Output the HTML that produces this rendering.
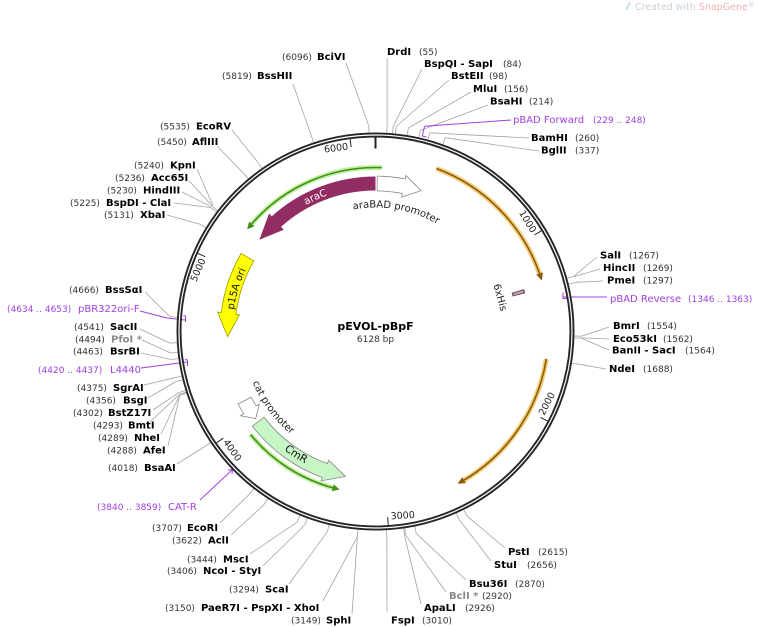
<!DOCTYPE html>
<html><head><meta charset="utf-8">
<style>
html,body{margin:0;padding:0;background:#fff;}
svg{display:block;}
text{font-family:"DejaVu Sans","Liberation Sans",sans-serif;}
.b{font-size:10px;font-weight:bold;fill:#000;}
.g{font-size:10px;font-weight:bold;fill:#8a8a8a;}
.n{font-size:9px;fill:#333;}
.p{font-size:10px;fill:#a040e0;}
.pn{font-size:9px;fill:#a040e0;}
.t{font-size:9.5px;fill:#222;}
</style></head>
<body>
<svg width="760" height="627" viewBox="0 0 760 627" xmlns="http://www.w3.org/2000/svg">
<defs>
<path id="cwA" d="M375.5,455.5 A124,124 0 1 1 375.5,207.5 A124,124 0 1 1 375.5,455.5"/>
<path id="cwC" d="M375.5,476 A144.5,144.5 0 1 1 375.5,187 A144.5,144.5 0 1 1 375.5,476"/>
<path id="cwP" d="M375.5,475 A143.5,143.5 0 1 1 375.5,188 A143.5,143.5 0 1 1 375.5,475"/>
<path id="ccwM" d="M375.5,182 A149.5,149.5 0 1 0 375.5,481 A149.5,149.5 0 1 0 375.5,182"/>
<path id="ccwK" d="M375.5,198.5 A133,133 0 1 0 375.5,464.5 A133,133 0 1 0 375.5,198.5"/>
</defs>

<!-- Created with SnapGene -->
<path d="M625,10 L629,2 L631,3 L627,10 Z" fill="#c5dff2"/>
<text x="635" y="10" style="font-size:9.5px;fill:#c9d2db">Created with <tspan style="fill:#f3b0b0">SnapGene</tspan><tspan style="font-size:7px;fill:#c9d2db" dy="-3">®</tspan></text>

<!-- leader connectors -->
<g stroke="#a3a3a3" stroke-width="0.8" fill="none">
<line x1="387.1" y1="58" x2="387.1" y2="125.8"/>
<line x1="422" y1="69" x2="393.2" y2="126.3"/>
<line x1="449" y1="80" x2="396.2" y2="126.5"/>
<line x1="471" y1="92" x2="408.3" y2="128.1"/>
<line x1="488" y1="105" x2="420.3" y2="130.4"/>
<line x1="529" y1="138" x2="429.8" y2="132.8"/>
<line x1="539" y1="151" x2="445.3" y2="137.7"/>
<line x1="597" y1="257" x2="573.9" y2="276.2"/>
<line x1="600" y1="269" x2="574.1" y2="276.6"/>
<line x1="603" y1="281" x2="575.5" y2="282.3"/>
<line x1="609" y1="327" x2="581.4" y2="336.2"/>
<line x1="609" y1="339" x2="581.4" y2="337.9"/>
<line x1="609" y1="350" x2="581.4" y2="338.3"/>
<line x1="606" y1="369" x2="578.9" y2="364.3"/>
<line x1="505" y1="548" x2="467.0" y2="516.1"/>
<line x1="491" y1="561" x2="459.2" y2="519.7"/>
<line x1="466" y1="580" x2="416.2" y2="533.4"/>
<line x1="446" y1="592" x2="405.8" y2="535.3"/>
<line x1="421" y1="604" x2="404.5" y2="535.4"/>
<line x1="387" y1="612" x2="386.9" y2="537.2"/>
<line x1="220" y1="523" x2="249.3" y2="494.3"/>
<line x1="231" y1="535" x2="264.0" y2="504.7"/>
<line x1="250" y1="554" x2="297.2" y2="522.1"/>
<line x1="263" y1="566" x2="304.7" y2="525.0"/>
<line x1="289" y1="584" x2="327.4" y2="531.8"/>
<line x1="323" y1="601" x2="357.4" y2="536.7"/>
<line x1="352" y1="614" x2="357.4" y2="536.7"/>
<line x1="177" y1="464" x2="204.7" y2="446.6"/>
<line x1="168" y1="446" x2="179.7" y2="395.5"/>
<line x1="161" y1="434" x2="179.6" y2="395.3"/>
<line x1="150" y1="422" x2="179.3" y2="394.4"/>
<line x1="153" y1="410" x2="178.8" y2="392.6"/>
<line x1="148" y1="398" x2="175.7" y2="381.6"/>
<line x1="144" y1="385" x2="174.8" y2="377.7"/>
<line x1="141" y1="353" x2="171.4" y2="359.5"/>
<line x1="142" y1="340" x2="170.6" y2="353.0"/>
<line x1="140" y1="329" x2="169.8" y2="343.1"/>
<line x1="145" y1="292" x2="170.0" y2="316.7"/>
<line x1="167" y1="215" x2="199.7" y2="224.1"/>
<line x1="174" y1="203" x2="210.9" y2="207.6"/>
<line x1="182" y1="192" x2="211.5" y2="206.8"/>
<line x1="189" y1="181" x2="212.3" y2="205.8"/>
<line x1="197" y1="169" x2="212.8" y2="205.1"/>
<line x1="217" y1="146" x2="243.6" y2="173.3"/>
<line x1="232" y1="130" x2="257.8" y2="162.4"/>
<line x1="293" y1="84" x2="311.3" y2="135.7"/>
<line x1="346" y1="63" x2="368.7" y2="125.6"/>
</g>
<!-- radial segments -->
<g stroke="#a3a3a3" stroke-width="0.8">
<line x1="375.5" y1="133" x2="375.5" y2="125.5" transform="rotate(3.231 375.5 331.5)"/>
<line x1="375.5" y1="133" x2="375.5" y2="125.5" transform="rotate(4.935 375.5 331.5)"/>
<line x1="375.5" y1="133" x2="375.5" y2="125.5" transform="rotate(5.757 375.5 331.5)"/>
<line x1="375.5" y1="133" x2="375.5" y2="125.5" transform="rotate(9.165 375.5 331.5)"/>
<line x1="375.5" y1="133" x2="375.5" y2="125.5" transform="rotate(12.572 375.5 331.5)"/>
<line x1="375.5" y1="133" x2="375.5" y2="125.5" transform="rotate(15.274 375.5 331.5)"/>
<line x1="375.5" y1="133" x2="375.5" y2="125.5" transform="rotate(19.798 375.5 331.5)"/>
<line x1="375.5" y1="133" x2="375.5" y2="125.5" transform="rotate(74.43 375.5 331.5)"/>
<line x1="375.5" y1="133" x2="375.5" y2="125.5" transform="rotate(76.19 375.5 331.5)"/>
<line x1="375.5" y1="133" x2="375.5" y2="125.5" transform="rotate(91.30 375.5 331.5)"/>
<line x1="375.5" y1="133" x2="375.5" y2="125.5" transform="rotate(91.85 375.5 331.5)"/>
<line x1="375.5" y1="133" x2="375.5" y2="125.5" transform="rotate(99.17 375.5 331.5)"/>
<line x1="375.5" y1="133" x2="375.5" y2="125.5" transform="rotate(153.62 375.5 331.5)"/>
<line x1="375.5" y1="133" x2="375.5" y2="125.5" transform="rotate(156.03 375.5 331.5)"/>
<line x1="375.5" y1="133" x2="375.5" y2="125.5" transform="rotate(168.60 375.5 331.5)"/>
<line x1="375.5" y1="133" x2="375.5" y2="125.5" transform="rotate(171.54 375.5 331.5)"/>
<line x1="375.5" y1="133" x2="375.5" y2="125.5" transform="rotate(171.89 375.5 331.5)"/>
<line x1="375.5" y1="133" x2="375.5" y2="125.5" transform="rotate(176.83 375.5 331.5)"/>
<line x1="375.5" y1="133" x2="375.5" y2="125.5" transform="rotate(185.05 375.5 331.5)"/>
<line x1="375.5" y1="133" x2="375.5" y2="125.5" transform="rotate(193.51 375.5 331.5)"/>
<line x1="375.5" y1="133" x2="375.5" y2="125.5" transform="rotate(200.09 375.5 331.5)"/>
<line x1="375.5" y1="133" x2="375.5" y2="125.5" transform="rotate(202.33 375.5 331.5)"/>
<line x1="375.5" y1="133" x2="375.5" y2="125.5" transform="rotate(212.79 375.5 331.5)"/>
<line x1="375.5" y1="133" x2="375.5" y2="125.5" transform="rotate(217.78 375.5 331.5)"/>
<line x1="375.5" y1="133" x2="375.5" y2="125.5" transform="rotate(236.04 375.5 331.5)"/>
<line x1="375.5" y1="133" x2="375.5" y2="125.5" transform="rotate(251.94 375.5 331.5)"/>
<line x1="375.5" y1="133" x2="375.5" y2="125.5" transform="rotate(252.21 375.5 331.5)"/>
<line x1="375.5" y1="133" x2="375.5" y2="125.5" transform="rotate(252.74 375.5 331.5)"/>
<line x1="375.5" y1="133" x2="375.5" y2="125.5" transform="rotate(255.91 375.5 331.5)"/>
<line x1="375.5" y1="133" x2="375.5" y2="125.5" transform="rotate(257.02 375.5 331.5)"/>
<line x1="375.5" y1="133" x2="375.5" y2="125.5" transform="rotate(262.18 375.5 331.5)"/>
<line x1="375.5" y1="133" x2="375.5" y2="125.5" transform="rotate(264.0 375.5 331.5)"/>
<line x1="375.5" y1="133" x2="375.5" y2="125.5" transform="rotate(266.77 375.5 331.5)"/>
<line x1="375.5" y1="133" x2="375.5" y2="125.5" transform="rotate(274.12 375.5 331.5)"/>
<line x1="375.5" y1="133" x2="375.5" y2="125.5" transform="rotate(301.43 375.5 331.5)"/>
<line x1="375.5" y1="133" x2="375.5" y2="125.5" transform="rotate(306.95 375.5 331.5)"/>
<line x1="375.5" y1="133" x2="375.5" y2="125.5" transform="rotate(307.5 375.5 331.5)"/>
<line x1="375.5" y1="133" x2="375.5" y2="125.5" transform="rotate(320.17 375.5 331.5)"/>
<line x1="375.5" y1="133" x2="375.5" y2="125.5" transform="rotate(325.16 375.5 331.5)"/>
<line x1="375.5" y1="133" x2="375.5" y2="125.5" transform="rotate(341.85 375.5 331.5)"/>
<line x1="375.5" y1="133" x2="375.5" y2="125.5" transform="rotate(358.12 375.5 331.5)"/>
</g>

<!-- primers (purple) -->
<g stroke="#a040e0" stroke-width="1" fill="none">
<line x1="511" y1="120" x2="424.7" y2="126.3"/>
<path d="M375.5,120.5 L375.5,130.5 L380,130.5" transform="rotate(13.45 375.5 331.5)"/>
<line x1="607" y1="297" x2="563" y2="297"/>
<path d="M563,292.5 L563,298.5 L567,298.5"/>
<polyline points="140,311 167,318 185,320"/>
<path d="M183.5,315.5 L185.5,316 L185.5,322"/>
<line x1="141" y1="368" x2="187" y2="362"/>
<path d="M185,359.5 L187.5,360 L187.5,366"/>
<line x1="200" y1="500" x2="232" y2="470"/>
<path d="M228,470 L232.5,469.5 L232,474"/>
</g>

<!-- backbone ring -->
<circle cx="375.5" cy="331.5" r="196.5" fill="none" stroke="#262626" stroke-width="5"/>
<circle cx="375.5" cy="331.5" r="196.5" fill="none" stroke="#fff" stroke-width="1.2"/>

<!-- ticks -->
<g stroke="#222" stroke-width="1">
<line x1="375.5" y1="137.5" x2="375.5" y2="145.5" transform="rotate(58.75 375.5 331.5)"/>
<line x1="375.5" y1="137.5" x2="375.5" y2="145.5" transform="rotate(117.5 375.5 331.5)"/>
<line x1="375.5" y1="137.5" x2="375.5" y2="145.5" transform="rotate(176.24 375.5 331.5)"/>
<line x1="375.5" y1="137.5" x2="375.5" y2="145.5" transform="rotate(234.99 375.5 331.5)"/>
<line x1="375.5" y1="137.5" x2="375.5" y2="145.5" transform="rotate(293.73 375.5 331.5)"/>
<line x1="375.5" y1="137.5" x2="375.5" y2="145.5" transform="rotate(352.48 375.5 331.5)"/>
<line x1="375.5" y1="137" x2="375.5" y2="148.5" stroke-width="2"/>
</g>
<g class="t">
<text class="t" x="372.5" y="147.5" text-anchor="end" transform="rotate(58.75 375.5 331.5)">1000</text>
<text class="t" x="372.5" y="147.5" text-anchor="end" transform="rotate(293.73 375.5 331.5)">5000</text>
<text class="t" x="372.5" y="147.5" text-anchor="end" transform="rotate(352.48 375.5 331.5)">6000</text>
<text class="t" x="378.5" y="520" transform="rotate(-62.5 375.5 331.5)">2000</text>
<text class="t" x="378.5" y="520" transform="rotate(-3.76 375.5 331.5)">3000</text>
<text class="t" x="378.5" y="520" transform="rotate(54.99 375.5 331.5)">4000</text>
</g>

<!-- ORF arcs -->
<g fill="none">
<circle cx="375.5" cy="331.5" r="164" pathLength="360" stroke="#c2f0a2" stroke-width="5" stroke-dasharray="51.2 400" transform="rotate(221 375.5 331.5)"/>
<circle cx="375.5" cy="331.5" r="164" pathLength="360" stroke="#3d8f14" stroke-width="1.6" stroke-dasharray="51.2 400" transform="rotate(221 375.5 331.5)"/>
<circle cx="375.5" cy="331.5" r="162" pathLength="360" stroke="#c2f0a2" stroke-width="5" stroke-dasharray="35.2 400" transform="rotate(105.3 375.5 331.5)"/>
<circle cx="375.5" cy="331.5" r="162" pathLength="360" stroke="#3d8f14" stroke-width="1.6" stroke-dasharray="35.2 400" transform="rotate(105.3 375.5 331.5)"/>
<circle cx="375.5" cy="331.5" r="174" pathLength="360" stroke="#f6cc78" stroke-width="5" stroke-dasharray="50 400" transform="rotate(-69.5 375.5 331.5)"/>
<circle cx="375.5" cy="331.5" r="174" pathLength="360" stroke="#8a5c08" stroke-width="1.6" stroke-dasharray="50 400" transform="rotate(-69.5 375.5 331.5)"/>
<circle cx="375.5" cy="331.5" r="173" pathLength="360" stroke="#f6cc78" stroke-width="5" stroke-dasharray="50.1 400" transform="rotate(9.1 375.5 331.5)"/>
<circle cx="375.5" cy="331.5" r="173" pathLength="360" stroke="#8a5c08" stroke-width="1.6" stroke-dasharray="50.1 400" transform="rotate(9.1 375.5 331.5)"/>
</g>
<polygon points="375.5,164 375.5,171 368.35,167.7" fill="#3d8f14" transform="rotate(311 375.5 331.5)"/>
<polygon points="375.5,166 375.5,173 368.43,169.65" fill="#3d8f14" transform="rotate(195.3 375.5 331.5)"/>
<polygon points="375.5,154 375.5,161 383.09,157.67" fill="#8a5c08" transform="rotate(70.5 375.5 331.5)"/>
<polygon points="375.5,155 375.5,162 383.05,158.7" fill="#8a5c08" transform="rotate(149.2 375.5 331.5)"/>

<!-- araC -->
<circle cx="375.5" cy="331.5" r="148" pathLength="360" fill="none" stroke="#922d63" stroke-width="14" stroke-dasharray="42.5 400" transform="rotate(227.5 375.5 331.5)"/>
<polygon points="375.5,172.5 375.5,194.5 350.6,185.6" fill="#922d63" transform="rotate(318 375.5 331.5)"/>
<text style="font-size:10px;fill:#fff"><textPath href="#cwC" startOffset="392.9" text-anchor="middle">araC</textPath></text>

<!-- araBAD promoter -->
<circle cx="375.5" cy="331.5" r="148" pathLength="360" fill="none" stroke="#888" stroke-width="15.6" stroke-dasharray="10.8 400" transform="rotate(-89.5 375.5 331.5)"/>
<circle cx="375.5" cy="331.5" r="148" pathLength="360" fill="none" stroke="#fff" stroke-width="14" stroke-dasharray="10.6 400" transform="rotate(-89.2 375.5 331.5)"/>
<path d="M375.5,176.5 L375.5,172.5 L393.54,184.6 L375.5,194.5 L375.5,190.5" fill="#fff" stroke="#888" stroke-width="0.8" transform="rotate(11 375.5 331.5)"/>
<text style="font-size:10px;fill:#222"><textPath href="#cwA" startOffset="410.6" text-anchor="middle">araBAD promoter</textPath></text>

<!-- p15A ori -->
<circle cx="375.5" cy="331.5" r="148" pathLength="360" fill="none" stroke="#9a9a00" stroke-width="15.6" stroke-dasharray="23.8 400" transform="rotate(186.5 375.5 331.5)"/>
<circle cx="375.5" cy="331.5" r="148" pathLength="360" fill="none" stroke="#ffff00" stroke-width="14" stroke-dasharray="23.5 400" transform="rotate(186.5 375.5 331.5)"/>
<path d="M375.5,176.5 L375.5,172.5 L352.35,185.3 L375.5,194.5 L375.5,190.5" fill="#ffff00" stroke="#9a9a00" stroke-width="0.8" transform="rotate(277 375.5 331.5)"/>
<text style="font-size:10px;fill:#111"><textPath href="#cwP" startOffset="268" text-anchor="middle">p15A ori</textPath></text>

<!-- CmR -->
<circle cx="375.5" cy="331.5" r="148" pathLength="360" fill="none" stroke="#888" stroke-width="15.6" stroke-dasharray="33.1 400" transform="rotate(109.5 375.5 331.5)"/>
<circle cx="375.5" cy="331.5" r="148" pathLength="360" fill="none" stroke="#c6f5c6" stroke-width="14" stroke-dasharray="32.8 400" transform="rotate(109.5 375.5 331.5)"/>
<path d="M375.5,176.5 L375.5,172.5 L354.13,185.05 L375.5,194.5 L375.5,190.5" fill="#c6f5c6" stroke="#888" stroke-width="0.8" transform="rotate(200 375.5 331.5)"/>
<text style="font-size:10.5px;fill:#111"><textPath href="#ccwM" startOffset="383.6" text-anchor="middle">CmR</textPath></text>

<!-- cat promoter -->
<circle cx="375.5" cy="331.5" r="148" pathLength="360" fill="none" stroke="#888" stroke-width="15.6" stroke-dasharray="4.8 400" transform="rotate(147.5 375.5 331.5)"/>
<circle cx="375.5" cy="331.5" r="148" pathLength="360" fill="none" stroke="#fff" stroke-width="14" stroke-dasharray="4.5 400" transform="rotate(147.5 375.5 331.5)"/>
<path d="M375.5,176.5 L375.5,172.5 L365.17,183.85 L375.5,194.5 L375.5,190.5" fill="#fff" stroke="#888" stroke-width="0.8" transform="rotate(238 375.5 331.5)"/>
<text style="font-size:10px;fill:#222"><textPath href="#ccwK" startOffset="293.6" text-anchor="middle">cat promoter</textPath></text>

<!-- 6xHis -->
<circle cx="375.5" cy="331.5" r="148" pathLength="360" fill="none" stroke="#6e5060" stroke-width="13" stroke-dasharray="1.6 400" transform="rotate(-15.9 375.5 331.5)"/>
<circle cx="375.5" cy="331.5" r="148" pathLength="360" fill="none" stroke="#c8a4b8" stroke-width="10" stroke-dasharray="0.8 400" transform="rotate(-15.5 375.5 331.5)"/>
<text x="375.5" y="205.5" text-anchor="middle" style="font-size:10px;fill:#222" transform="rotate(74.7 375.5 331.5)">6xHis</text>

<!-- center -->
<text x="375.5" y="330" text-anchor="middle" style="font-size:11px;font-weight:bold;fill:#000">pEVOL-pBpF</text>
<text x="375.5" y="342" text-anchor="middle" style="font-size:9px;fill:#333">6128 bp</text>

<!-- labels top -->
<text class="n" x="282" y="60">(6096)</text><text class="b" x="317" y="60">BciVI</text>
<text class="n" x="222" y="79">(5819)</text><text class="b" x="257" y="79">BssHII</text>
<text class="b" x="387" y="55">DrdI</text><text class="n" x="419" y="55">(55)</text>
<text class="b" x="424" y="67">BspQI - SapI</text><text class="n" x="503" y="67">(84)</text>
<text class="b" x="451" y="79">BstEII</text><text class="n" x="489" y="79">(98)</text>
<text class="b" x="473" y="92">MluI</text><text class="n" x="504" y="92">(156)</text>
<text class="b" x="490" y="104.5">BsaHI</text><text class="n" x="529" y="104.5">(214)</text>
<text class="p" x="513" y="123">pBAD Forward</text><text class="pn" x="593" y="123">(229 .. 248)</text>
<text class="b" x="531" y="141">BamHI</text><text class="n" x="575" y="141">(260)</text>
<text class="b" x="541" y="153.5">BglII</text><text class="n" x="575" y="153.5">(337)</text>

<!-- labels right -->
<text class="b" x="600" y="258.5">SalI</text><text class="n" x="629" y="258.5">(1267)</text>
<text class="b" x="603" y="271">HincII</text><text class="n" x="643" y="271">(1269)</text>
<text class="b" x="607" y="283.5">PmeI</text><text class="n" x="643" y="283.5">(1297)</text>
<text class="p" x="610" y="302">pBAD Reverse</text><text class="pn" x="688" y="302">(1346 .. 1363)</text>
<text class="b" x="613" y="329">BmrI</text><text class="n" x="647" y="329">(1554)</text>
<text class="b" x="613" y="342">Eco53kI</text><text class="n" x="663" y="342">(1562)</text>
<text class="b" x="612" y="353.5">BanII - SacI</text><text class="n" x="685" y="353.5">(1564)</text>
<text class="b" x="609" y="372">NdeI</text><text class="n" x="643" y="372">(1688)</text>

<!-- labels bottom right -->
<text class="b" x="508" y="555">PstI</text><text class="n" x="538" y="555">(2615)</text>
<text class="b" x="494" y="568">StuI</text><text class="n" x="527" y="568">(2656)</text>
<text class="b" x="469" y="587">Bsu36I</text><text class="n" x="515" y="587">(2870)</text>
<text class="g" x="449" y="599">BclI *</text><text class="n" x="482" y="599">(2920)</text>
<text class="b" x="424" y="611">ApaLI</text><text class="n" x="465" y="611">(2926)</text>
<text class="b" x="391" y="623.5">FspI</text><text class="n" x="422" y="623.5">(3010)</text>

<!-- labels bottom left -->
<text class="pn" x="97" y="510">(3840 .. 3859)</text><text class="p" x="168" y="510">CAT-R</text>
<text class="n" x="152" y="531">(3707)</text><text class="b" x="187" y="531">EcoRI</text>
<text class="n" x="172" y="543.5">(3622)</text><text class="b" x="208" y="543.5">AclI</text>
<text class="n" x="187" y="562.5">(3444)</text><text class="b" x="223" y="562.5">MscI</text>
<text class="n" x="167" y="574">(3406)</text><text class="b" x="203" y="574">NcoI - StyI</text>
<text class="n" x="229" y="592.5">(3294)</text><text class="b" x="265" y="592.5">ScaI</text>
<text class="n" x="165" y="611">(3150)</text><text class="b" x="201" y="611">PaeR7I - PspXI - XhoI</text>
<text class="n" x="291" y="623.5">(3149)</text><text class="b" x="326" y="623.5">SphI</text>

<!-- labels left -->
<text class="n" x="108" y="471">(4018)</text><text class="b" x="144" y="471">BsaAI</text>
<text class="n" x="107" y="453.5">(4288)</text><text class="b" x="143" y="453.5">AfeI</text>
<text class="n" x="98" y="441">(4289)</text><text class="b" x="134" y="441">NheI</text>
<text class="n" x="93" y="428.5">(4293)</text><text class="b" x="128" y="428.5">BmtI</text>
<text class="n" x="73" y="416">(4302)</text><text class="b" x="108" y="416">BstZ17I</text>
<text class="n" x="86" y="403.5">(4356)</text><text class="b" x="123" y="403.5">BsgI</text>
<text class="n" x="77" y="391">(4375)</text><text class="b" x="113" y="391">SgrAI</text>
<text class="pn" x="38" y="373">(4420 .. 4437)</text><text class="p" x="110" y="373">L4440</text>
<text class="n" x="73" y="354.5">(4463)</text><text class="b" x="110" y="354.5">BsrBI</text>
<text class="n" x="75" y="342.5">(4494)</text><text class="g" x="111" y="342.5">PfoI *</text>
<text class="n" x="74" y="330">(4541)</text><text class="b" x="110" y="330">SacII</text>
<text class="pn" x="7" y="312">(4634 .. 4653)</text><text class="p" x="78" y="312">pBR322ori-F</text>
<text class="n" x="69" y="293">(4666)</text><text class="b" x="105" y="293">BssSαI</text>

<!-- labels top left -->
<text class="n" x="104" y="218">(5131)</text><text class="b" x="140" y="218">XbaI</text>
<text class="n" x="70" y="206">(5225)</text><text class="b" x="106" y="206">BspDI - ClaI</text>
<text class="n" x="107" y="193.5">(5230)</text><text class="b" x="143" y="193.5">HindIII</text>
<text class="n" x="115" y="181">(5236)</text><text class="b" x="151" y="181">Acc65I</text>
<text class="n" x="134" y="168.5">(5240)</text><text class="b" x="170" y="168.5">KpnI</text>
<text class="n" x="157" y="145">(5450)</text><text class="b" x="192" y="145">AflIII</text>
<text class="n" x="160" y="129.5">(5535)</text><text class="b" x="196" y="129.5">EcoRV</text>
</svg>
</body></html>
